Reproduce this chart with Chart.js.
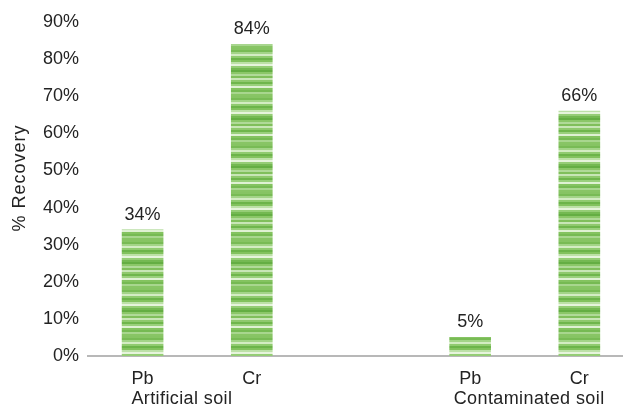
<!DOCTYPE html>
<html>
<head>
<meta charset="utf-8">
<script src="https://cdn.jsdelivr.net/npm/chart.js@4/dist/chart.umd.min.js"></script>
<style>
html,body{margin:0;padding:0;background:#fff;}
#wrap{width:623px;height:408px;position:relative;}
</style>
</head>
<body>
<div id="wrap"><canvas id="c" width="623" height="408"></canvas></div>
<script>
// ---- data ----
const elements = ["Pb", "Cr", "Pb", "Cr"];
const positions = [0, 1, 3, 4];
const groups = ["Artificial soil", "Contaminated soil"];
const groupCenters = [0.36, 3.54];
const recovery = [34, 84, 5, 66];
const yTicks = [0, 10, 20, 30, 40, 50, 60, 70, 80, 90];
const yTitle = "% Recovery";

// ---- striped green fill ----
const stripeColors = [
  '#86c463','#78bb55','#a3d488','#d3ecc3','#90cb70','#6cb44a','#82c25e','#bde1a8',
  '#e6f4dc','#95cd76','#74b952','#64ae43','#8bc768','#b0da98','#80bf5b','#c8e6b6',
  '#8fc96d','#6fb64c','#9ad07c','#dff1d3','#84c360','#76ba53','#a8d68e','#88c565'
];
function makePattern(ctx){
  const pc = document.createElement('canvas');
  const sh = 2;
  pc.width = 4; pc.height = stripeColors.length * sh;
  const g = pc.getContext('2d');
  stripeColors.forEach((c,i)=>{ g.fillStyle = c; g.fillRect(0,i*sh,4,sh); });
  return ctx.createPattern(pc,'repeat');
}

const ctx = document.getElementById('c').getContext('2d');
const pattern = makePattern(ctx);

const FONT = "'Liberation Sans', Arial, sans-serif";
const TXT = '#232323';

const labelPlugin = {
  id:'labels',
  afterDatasetsDraw(chart){
    const c = chart.ctx;
    const meta = chart.getDatasetMeta(0);
    c.save();
    c.font = "18px " + FONT;
    c.fillStyle = TXT;
    c.textAlign = 'center';
    c.textBaseline = 'alphabetic';
    meta.data.forEach((bar,i)=>{
      c.fillText(recovery[i] + '%', bar.x, bar.y - 10);
    });
    const xs = chart.scales.x;
    c.letterSpacing = '0.4px';
    groups.forEach((gname,i)=>{
      c.fillText(gname, xs.getPixelForValue(groupCenters[i]), 404);
    });
    c.letterSpacing = '1px';
    c.translate(25, 178);
    c.rotate(-Math.PI/2);
    c.fillText(yTitle, 0, 0);
    c.restore();
  }
};

new Chart(ctx, {
  type:'bar',
  data:{
    datasets:[{
      data: positions.map((p,i)=>({x:p, y:recovery[i]})),
      backgroundColor: pattern,
      borderWidth:0,
      barThickness:41
    }]
  },
  options:{
    responsive:false,
    animation:false,
    layout:{padding:{top:22,right:0,left:0,bottom:0}},
    plugins:{legend:{display:false},tooltip:{enabled:false}},
    scales:{
      x:{
        type:'linear',
        offset:false,
        min:-0.5,
        max:4.4,
        grid:{display:false, drawTicks:false, offset:false},
        border:{display:true,color:'#b8b8b8',width:2},
        afterBuildTicks(s){ s.ticks = positions.map(v=>({value:v})); },
        afterFit(s){ s.height = 52; },
        ticks:{
          padding:12,
          autoSkip:false,
          maxRotation:0,
          color:TXT,
          font:{family:FONT,size:18},
          callback(v){ const i = positions.indexOf(v); return i>=0 ? elements[i] : ''; }
        }
      },
      y:{
        min:0,
        max:90,
        grid:{display:false, drawTicks:false},
        border:{display:false},
        afterBuildTicks(s){ s.ticks = yTicks.map(v=>({value:v})); },
        afterFit(s){ s.width = 88; },
        ticks:{
          padding:9,
          color:TXT,
          font:{family:FONT,size:18},
          callback(v){ return v + '%'; }
        }
      }
    }
  },
  plugins:[labelPlugin]
});
</script>
</body>
</html>
